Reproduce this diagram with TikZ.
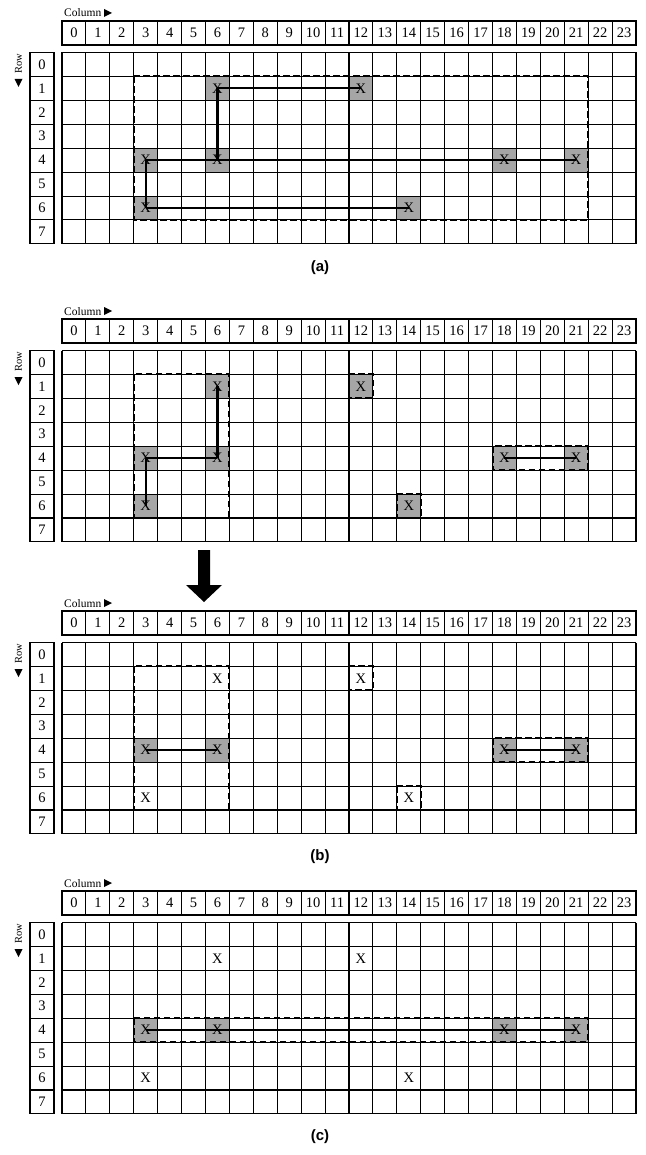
\documentclass[tikz,border=0pt]{standalone}
\usepackage{fontspec}
\setmainfont{Liberation Serif}
\newfontfamily\labfont{Liberation Sans}
\begin{document}
\begin{tikzpicture}[x=1pt,y=-1pt,
  gridline/.style={line width=1.05pt},
  conn/.style={line width=2.2pt},
  dashbox/.style={line width=2pt, dash pattern=on 6.5pt off 3.5pt},
  shadecell/.style={fill=black!35},
  numtxt/.style={font=\fontsize{14.5}{15}\selectfont, inner sep=0pt},
  xtxt/.style={font=\fontsize{14.5}{15}\selectfont, inner sep=0pt},
  coltxt/.style={font=\fontsize{11.5}{12}\selectfont, inner sep=0pt},
  rowtxt/.style={font=\fontsize{10.5}{11}\selectfont, inner sep=0pt},
  captxt/.style={font=\labfont\bfseries\fontsize{15}{16}\selectfont, inner sep=0pt},
  cells/.style={shift={(62,{#1+31.5})}, x=23.917pt, y=-23.925pt},
  ]
\useasboundingbox (0,0) rectangle (645,1155);

\newcommand\drawframe[2]{%
\begin{scope}[shift={(0,#1)}]
  \node[coltxt, anchor=base west] (#2-collab) at (64,-4) {Column};
  \fill (104,-12) -- (112,-8) -- (104,-4) -- cycle;
  \draw[gridline] (62,0) rectangle (636,24);
  \foreach \i in {1,...,23} \draw[gridline] ({62+\i*23.917},0) -- ++(0,24);
  \foreach \i in {0,...,23} \node[numtxt] (#2-h\i) at ({62+(\i+0.5)*23.917},12) {\i};
  \node[rowtxt, rotate=90] (#2-rowlab) at (18.5,43) {Row};
  \fill (14.5,58) -- (22.5,58) -- (18.5,66) -- cycle;
  \draw[gridline] (30,31.5) rectangle (54,222.9);
  \foreach \j in {1,...,7} \draw[gridline] (30,{31.5+\j*23.925}) -- (54,{31.5+\j*23.925});
  \foreach \j in {0,...,7} \node[numtxt] (#2-r\j) at (42,{31.5+(\j+0.5)*23.925}) {\j};
\end{scope}
\begin{scope}[cells=#1]
  \foreach \i in {0,...,24} \draw[gridline] (\i,0) -- (\i,8);
  \foreach \j in {0,...,8} \draw[gridline] (0,\j) -- (24,\j);
\end{scope}}

% ================= (a) =================
\begin{scope}[cells=21]
  \foreach \r/\c in {1/6,1/12,4/3,4/6,4/18,4/21,6/3,6/14}
    \fill[shadecell] (\c,\r) rectangle ++(1,1);
\end{scope}
\drawframe{21}{a}
\begin{scope}[cells=21]
  \draw[dashbox] (3,1) rectangle (22,7);
  \foreach \r/\c in {1/6,1/12,4/3,4/6,4/18,4/21,6/3,6/14}
    \node[xtxt] (a-\r-\c) at (\c+0.5,\r+0.5) {X};
  \draw[conn] (a-1-6.center) -- (a-1-12.center);
  \draw[conn] (a-1-6.center) -- (a-4-6.center);
  \draw[conn] (a-4-3.center) -- (a-4-21.center);
  \draw[conn] (a-4-3.center) -- (a-6-3.center);
  \draw[conn] (a-6-3.center) -- (a-6-14.center);
\end{scope}
\node[captxt] (capa) at (320,268) {(a)};

% ================= (b) top =================
\begin{scope}[cells=319]
  \foreach \r/\c in {1/6,1/12,4/3,4/6,4/18,4/21,6/3,6/14}
    \fill[shadecell] (\c,\r) rectangle ++(1,1);
\end{scope}
\drawframe{319}{b}
\begin{scope}[cells=319]
  \draw[dashbox] (3,1) rectangle (7,7);
  \draw[dashbox] (12,1) rectangle (13,2);
  \draw[dashbox] (14,6) rectangle (15,7);
  \draw[dashbox] (18,4) rectangle (22,5);
  \foreach \r/\c in {1/6,1/12,4/3,4/6,4/18,4/21,6/3,6/14}
    \node[xtxt] (b-\r-\c) at (\c+0.5,\r+0.5) {X};
  \draw[conn] (b-1-6.center) -- (b-4-6.center);
  \draw[conn] (b-4-3.center) -- (b-4-6.center);
  \draw[conn] (b-4-3.center) -- (b-6-3.center);
  \draw[conn] (b-4-18.center) -- (b-4-21.center);
\end{scope}

% arrow
\fill (198,550) -- (210,550) -- (210,585) -- (222,585) -- (204,602) -- (186,585) -- (198,585) -- cycle;

% ================= (b) bottom =================
\begin{scope}[cells=611]
  \foreach \r/\c in {4/3,4/6,4/18,4/21}
    \fill[shadecell] (\c,\r) rectangle ++(1,1);
\end{scope}
\drawframe{611}{bb}
\begin{scope}[cells=611]
  \draw[dashbox] (3,1) rectangle (7,7);
  \draw[dashbox] (12,1) rectangle (13,2);
  \draw[dashbox] (14,6) rectangle (15,7);
  \draw[dashbox] (18,4) rectangle (22,5);
  \foreach \r/\c in {1/6,1/12,4/3,4/6,4/18,4/21,6/3,6/14}
    \node[xtxt] (bb-\r-\c) at (\c+0.5,\r+0.5) {X};
  \draw[conn] (bb-4-3.center) -- (bb-4-6.center);
  \draw[conn] (bb-4-18.center) -- (bb-4-21.center);
\end{scope}
\node[captxt] (capb) at (320,857) {(b)};

% ================= (c) =================
\begin{scope}[cells=891]
  \foreach \r/\c in {4/3,4/6,4/18,4/21}
    \fill[shadecell] (\c,\r) rectangle ++(1,1);
\end{scope}
\drawframe{891}{c}
\begin{scope}[cells=891]
  \draw[dashbox] (3,4) rectangle (22,5);
  \foreach \r/\c in {1/6,1/12,4/3,4/6,4/18,4/21,6/3,6/14}
    \node[xtxt] (c-\r-\c) at (\c+0.5,\r+0.5) {X};
  \draw[conn] (c-4-3.center) -- (c-4-21.center);
\end{scope}
\node[captxt] (capc) at (320,1137) {(c)};
\end{tikzpicture}
\end{document}
